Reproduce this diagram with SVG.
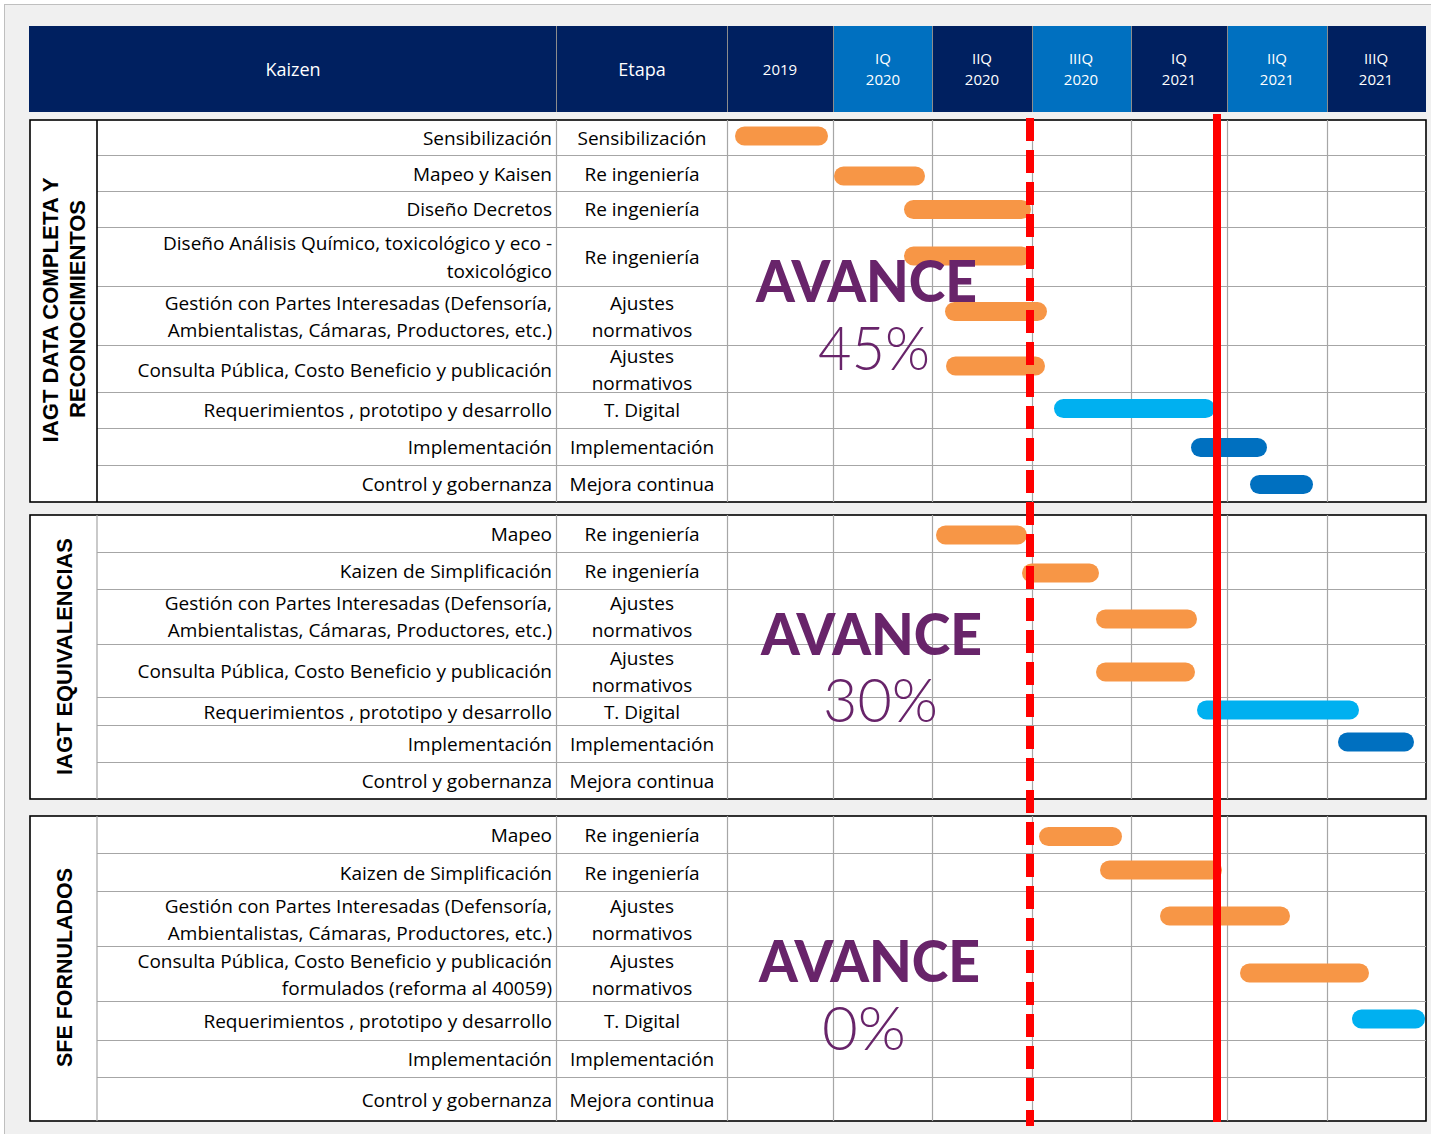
<svg xmlns="http://www.w3.org/2000/svg" width="1431" height="1134" viewBox="0 0 1431 1134">
<style>
.lbl{font-family:"Open Sans","Liberation Sans",sans-serif;font-size:19px;fill:#000}
.r{text-anchor:end}
.c{text-anchor:middle}
.hd{font-family:"Open Sans","Liberation Sans",sans-serif;fill:#fff;text-anchor:middle}
.g{stroke:#A6A6A6;stroke-width:1.2;fill:none}
.sec{fill:#fff;stroke:#000;stroke-width:1.6}
.vl{font-family:"Liberation Sans",Arial,sans-serif;font-weight:bold;font-size:22px;fill:#000;text-anchor:middle}
.av{font-family:Lato,"Liberation Sans",sans-serif;font-weight:900;font-size:57px;fill:#68246A}
.pc{font-family:Lato,"Liberation Sans",sans-serif;font-weight:300;font-size:62px;fill:#68246A}
.o{fill:#F79646}
.lb{fill:#00B0F0}
.db{fill:#0070C0}
</style>
<rect x="0" y="0" width="1431" height="1134" fill="#fff"/>
<rect x="4.5" y="4.5" width="1430" height="1133" fill="#F0F0F0" stroke="#BFBFBF" stroke-width="1"/>

<g id="header">
<rect x="29" y="26" width="698" height="86" fill="#002060"/>
<rect x="727" y="26" width="106" height="86" fill="#002060"/>
<rect x="833" y="26" width="99" height="86" fill="#0070C0"/>
<rect x="932" y="26" width="100" height="86" fill="#002060"/>
<rect x="1032" y="26" width="99" height="86" fill="#0070C0"/>
<rect x="1131" y="26" width="96" height="86" fill="#002060"/>
<rect x="1227" y="26" width="100" height="86" fill="#0070C0"/>
<rect x="1327" y="26" width="99" height="86" fill="#002060"/>
<g stroke="#8C8C8C" stroke-width="1">
<line x1="556.5" y1="26" x2="556.5" y2="112"/><line x1="727.5" y1="26" x2="727.5" y2="112"/>
<line x1="833.5" y1="26" x2="833.5" y2="112"/><line x1="932.5" y1="26" x2="932.5" y2="112"/>
<line x1="1032.5" y1="26" x2="1032.5" y2="112"/><line x1="1131.5" y1="26" x2="1131.5" y2="112"/>
<line x1="1227.5" y1="26" x2="1227.5" y2="112"/><line x1="1327.5" y1="26" x2="1327.5" y2="112"/>
</g>
<text class="hd" x="293" y="76" font-size="18">Kaizen</text>
<text class="hd" x="642" y="76" font-size="18">Etapa</text>
<text class="hd" x="780" y="75" font-size="15">2019</text>
<text class="hd" x="883" y="64" font-size="15">IQ</text><text class="hd" x="883" y="85" font-size="15">2020</text>
<text class="hd" x="982" y="64" font-size="15">IIQ</text><text class="hd" x="982" y="85" font-size="15">2020</text>
<text class="hd" x="1081" y="64" font-size="15">IIIQ</text><text class="hd" x="1081" y="85" font-size="15">2020</text>
<text class="hd" x="1179" y="64" font-size="15">IQ</text><text class="hd" x="1179" y="85" font-size="15">2021</text>
<text class="hd" x="1277" y="64" font-size="15">IIQ</text><text class="hd" x="1277" y="85" font-size="15">2021</text>
<text class="hd" x="1376" y="64" font-size="15">IIIQ</text><text class="hd" x="1376" y="85" font-size="15">2021</text>
</g>

<g id="section1">
<rect class="sec" x="30" y="120" width="1396" height="382"/>
<path class="g" d="M97 155.5H1426M97 191.5H1426M97 227.5H1426M97 286.5H1426M97 345.5H1426M97 392.5H1426M97 428.5H1426M97 465.5H1426"/>
<path class="g" d="M556.5 120V502M727.5 120V502M833.5 120V502M932.5 120V502M1032.5 120V502M1131.5 120V502M1227.5 120V502M1327.5 120V502"/>
<line x1="97" y1="120" x2="97" y2="502" stroke="#000" stroke-width="1.6"/>
<text class="vl" transform="translate(58,310) rotate(-90)" textLength="265" lengthAdjust="spacingAndGlyphs">IAGT DATA COMPLETA Y</text>
<text class="vl" transform="translate(85,309) rotate(-90)" textLength="218" lengthAdjust="spacingAndGlyphs">RECONOCIMIENTOS</text>
<text class="lbl r" x="552" y="145">Sensibilización</text><text class="lbl c" x="642" y="145">Sensibilización</text>
<text class="lbl r" x="552" y="181">Mapeo y Kaisen</text><text class="lbl c" x="642" y="181">Re ingeniería</text>
<text class="lbl r" x="552" y="216">Diseño Decretos</text><text class="lbl c" x="642" y="264">Re ingeniería</text>
<text class="lbl c" x="642" y="216">Re ingeniería</text>
<text class="lbl r" x="552" y="250">Diseño Análisis Químico, toxicológico y eco -</text>
<text class="lbl r" x="552" y="278">toxicológico</text>
<text class="lbl r" x="552" y="310">Gestión con Partes Interesadas (Defensoría,</text>
<text class="lbl r" x="552" y="337">Ambientalistas, Cámaras, Productores, etc.)</text>
<text class="lbl c" x="642" y="310">Ajustes</text><text class="lbl c" x="642" y="337">normativos</text>
<text class="lbl r" x="552" y="377">Consulta Pública, Costo Beneficio y publicación</text>
<text class="lbl c" x="642" y="363">Ajustes</text><text class="lbl c" x="642" y="390">normativos</text>
<text class="lbl r" x="552" y="417">Requerimientos , prototipo y desarrollo</text><text class="lbl c" x="642" y="417">T. Digital</text>
<text class="lbl r" x="552" y="454">Implementación</text><text class="lbl c" x="642" y="454">Implementación</text>
<text class="lbl r" x="552" y="491">Control y gobernanza</text><text class="lbl c" x="642" y="491">Mejora continua</text>
</g>

<g id="section2">
<rect class="sec" x="30" y="515" width="1396" height="284"/>
<path class="g" d="M97 552.5H1426M97 589.5H1426M97 644.5H1426M97 697.5H1426M97 725.5H1426M97 762.5H1426"/>
<path class="g" d="M556.5 515V799M727.5 515V799M833.5 515V799M932.5 515V799M1032.5 515V799M1131.5 515V799M1227.5 515V799M1327.5 515V799"/>
<line x1="97" y1="515" x2="97" y2="799" stroke="#A6A6A6" stroke-width="1.2"/>
<text class="vl" transform="translate(72,656.5) rotate(-90)" textLength="237" lengthAdjust="spacingAndGlyphs">IAGT EQUIVALENCIAS</text>
<text class="lbl r" x="552" y="541">Mapeo</text><text class="lbl c" x="642" y="541">Re ingeniería</text>
<text class="lbl r" x="552" y="578">Kaizen de Simplificación</text><text class="lbl c" x="642" y="578">Re ingeniería</text>
<text class="lbl r" x="552" y="610">Gestión con Partes Interesadas (Defensoría,</text>
<text class="lbl r" x="552" y="637">Ambientalistas, Cámaras, Productores, etc.)</text>
<text class="lbl c" x="642" y="610">Ajustes</text><text class="lbl c" x="642" y="637">normativos</text>
<text class="lbl r" x="552" y="678">Consulta Pública, Costo Beneficio y publicación</text>
<text class="lbl c" x="642" y="665">Ajustes</text><text class="lbl c" x="642" y="692">normativos</text>
<text class="lbl r" x="552" y="719">Requerimientos , prototipo y desarrollo</text><text class="lbl c" x="642" y="719">T. Digital</text>
<text class="lbl r" x="552" y="751">Implementación</text><text class="lbl c" x="642" y="751">Implementación</text>
<text class="lbl r" x="552" y="788">Control y gobernanza</text><text class="lbl c" x="642" y="788">Mejora continua</text>
</g>

<g id="section3">
<rect class="sec" x="30" y="816" width="1396" height="305"/>
<path class="g" d="M97 853.5H1426M97 891.5H1426M97 946.5H1426M97 1001.5H1426M97 1040.5H1426M97 1077.5H1426"/>
<path class="g" d="M556.5 816V1121M727.5 816V1121M833.5 816V1121M932.5 816V1121M1032.5 816V1121M1131.5 816V1121M1227.5 816V1121M1327.5 816V1121"/>
<line x1="97" y1="816" x2="97" y2="1121" stroke="#A6A6A6" stroke-width="1.2"/>
<text class="vl" transform="translate(72,967.5) rotate(-90)" textLength="199" lengthAdjust="spacingAndGlyphs">SFE FORNULADOS</text>
<text class="lbl r" x="552" y="842">Mapeo</text><text class="lbl c" x="642" y="842">Re ingeniería</text>
<text class="lbl r" x="552" y="880">Kaizen de Simplificación</text><text class="lbl c" x="642" y="880">Re ingeniería</text>
<text class="lbl r" x="552" y="913">Gestión con Partes Interesadas (Defensoría,</text>
<text class="lbl r" x="552" y="940">Ambientalistas, Cámaras, Productores, etc.)</text>
<text class="lbl c" x="642" y="913">Ajustes</text><text class="lbl c" x="642" y="940">normativos</text>
<text class="lbl r" x="552" y="968">Consulta Pública, Costo Beneficio y publicación</text>
<text class="lbl r" x="552" y="995">formulados (reforma al 40059)</text>
<text class="lbl c" x="642" y="968">Ajustes</text><text class="lbl c" x="642" y="995">normativos</text>
<text class="lbl r" x="552" y="1028">Requerimientos , prototipo y desarrollo</text><text class="lbl c" x="642" y="1028">T. Digital</text>
<text class="lbl r" x="552" y="1066">Implementación</text><text class="lbl c" x="642" y="1066">Implementación</text>
<text class="lbl r" x="552" y="1107">Control y gobernanza</text><text class="lbl c" x="642" y="1107">Mejora continua</text>
</g>

<g id="bars">
<rect class="o" x="735" y="126.5" width="93" height="19" rx="9.5"/>
<rect class="o" x="834" y="166.5" width="91" height="19" rx="9.5"/>
<rect class="o" x="904" y="200" width="127" height="19" rx="9.5"/>
<rect class="o" x="904" y="246.5" width="127" height="19" rx="9.5"/>
<rect class="o" x="945" y="302" width="102" height="19" rx="9.5"/>
<rect class="o" x="946" y="356.5" width="99" height="19" rx="9.5"/>
<rect class="lb" x="1054" y="399" width="161" height="19" rx="9.5"/>
<rect class="db" x="1191" y="438" width="76" height="19" rx="9.5"/>
<rect class="db" x="1250" y="475" width="63" height="19" rx="9.5"/>
<rect class="o" x="936" y="525.5" width="91" height="19" rx="9.5"/>
<rect class="o" x="1022" y="563.5" width="77" height="19" rx="9.5"/>
<rect class="o" x="1096" y="609.5" width="101" height="19" rx="9.5"/>
<rect class="o" x="1096" y="662.5" width="99" height="19" rx="9.5"/>
<rect class="lb" x="1197" y="700.5" width="162" height="19" rx="9.5"/>
<rect class="db" x="1338" y="732.5" width="76" height="19" rx="9.5"/>
<rect class="o" x="1039" y="827" width="83" height="19" rx="9.5"/>
<rect class="o" x="1100" y="860.5" width="122" height="19" rx="9.5"/>
<rect class="o" x="1160" y="906.5" width="130" height="19" rx="9.5"/>
<rect class="o" x="1240" y="963.5" width="129" height="19" rx="9.5"/>
<rect class="lb" x="1352" y="1009.5" width="73" height="19" rx="9.5"/>
</g>

<g id="avance">
<text class="av" x="756" y="302" textLength="221" lengthAdjust="spacingAndGlyphs">AVANCE</text>
<text class="pc" x="818" y="370" textLength="112" lengthAdjust="spacingAndGlyphs">45%</text>
<text class="av" x="761" y="655" textLength="221" lengthAdjust="spacingAndGlyphs">AVANCE</text>
<text class="pc" x="823" y="722" textLength="115" lengthAdjust="spacingAndGlyphs">30%</text>
<text class="av" x="759" y="982" textLength="221" lengthAdjust="spacingAndGlyphs">AVANCE</text>
<text class="pc" x="822" y="1050" textLength="84" lengthAdjust="spacingAndGlyphs">0%</text>
</g>

<g id="connectors">
<line x1="1030" y1="118" x2="1030" y2="1126" stroke="#FF0000" stroke-width="8" stroke-dasharray="23 9"/>
<line x1="1217" y1="114" x2="1217" y2="1122" stroke="#FF0000" stroke-width="8"/>
</g>
</svg>
